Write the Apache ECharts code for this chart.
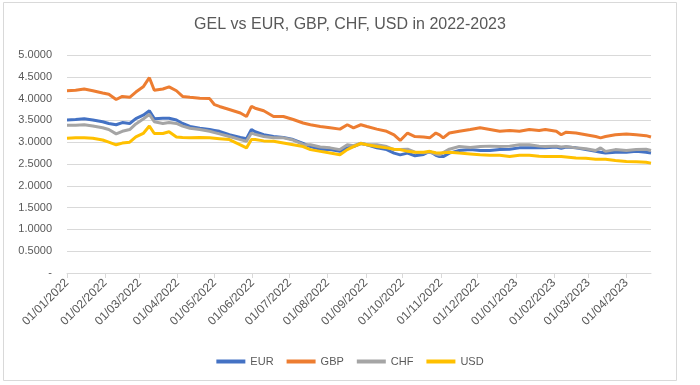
<!DOCTYPE html>
<html>
<head>
<meta charset="utf-8">
<script src="https://cdn.jsdelivr.net/npm/echarts@6/dist/echarts.min.js"></script>
<style>
html,body{margin:0;padding:0;background:#fff;}
#chart{width:700px;height:385px;}
</style>
</head>
<body>
<div id="chart"></div>
<script>
const dates = [
'2022-01-01','2022-01-08','2022-01-15','2022-01-22','2022-01-30','2022-02-04','2022-02-10','2022-02-15','2022-02-21','2022-02-26',
'2022-03-04','2022-03-09','2022-03-13','2022-03-20','2022-03-25','2022-03-31','2022-04-05','2022-04-11','2022-04-19','2022-04-27',
'2022-05-01','2022-05-05','2022-05-13','2022-05-22','2022-05-27','2022-05-31','2022-06-03','2022-06-10','2022-06-18','2022-06-26',
'2022-07-04','2022-07-12','2022-07-18','2022-07-26','2022-08-03','2022-08-11','2022-08-17','2022-08-22','2022-08-28','2022-09-02',
'2022-09-10','2022-09-18','2022-09-24','2022-09-29','2022-10-05','2022-10-11','2022-10-18','2022-10-23','2022-10-28','2022-10-31',
'2022-11-03','2022-11-08','2022-11-16','2022-11-25','2022-12-03','2022-12-11','2022-12-19','2022-12-27','2023-01-04','2023-01-12',
'2023-01-20','2023-01-25','2023-02-03','2023-02-07','2023-02-11','2023-02-19','2023-02-27','2023-03-07','2023-03-11','2023-03-15',
'2023-03-23','2023-04-01','2023-04-09','2023-04-17','2023-04-21'
];
const eur = [
3.51,3.52,3.54,3.51,3.47,3.43,3.40,3.45,3.43,3.54,
3.62,3.72,3.54,3.55,3.55,3.51,3.43,3.36,3.32,3.29,
3.27,3.25,3.17,3.11,3.08,3.29,3.24,3.17,3.13,3.11,
3.06,2.97,2.90,2.84,2.83,2.79,2.87,2.90,2.97,2.94,
2.87,2.83,2.75,2.71,2.75,2.69,2.72,2.79,2.70,2.67,
2.67,2.75,2.81,2.83,2.81,2.81,2.83,2.84,2.87,2.87,
2.88,2.87,2.89,2.86,2.89,2.87,2.83,2.79,2.77,2.75,
2.77,2.77,2.79,2.77,2.75
];
const gbp = [
4.18,4.19,4.22,4.18,4.13,4.10,3.98,4.05,4.03,4.15,
4.27,4.48,4.19,4.22,4.27,4.18,4.05,4.03,4.01,4.00,
3.86,3.82,3.75,3.67,3.59,3.82,3.78,3.72,3.59,3.59,
3.52,3.44,3.40,3.36,3.33,3.30,3.40,3.33,3.40,3.36,
3.30,3.25,3.17,3.04,3.21,3.13,3.12,3.10,3.21,3.17,
3.10,3.21,3.25,3.29,3.33,3.29,3.25,3.27,3.25,3.29,
3.27,3.29,3.25,3.17,3.23,3.21,3.17,3.13,3.10,3.13,
3.17,3.19,3.17,3.15,3.12
];
const chf = [
3.39,3.39,3.40,3.37,3.33,3.29,3.19,3.25,3.29,3.42,
3.53,3.64,3.47,3.43,3.45,3.43,3.37,3.32,3.29,3.25,
3.22,3.19,3.13,3.06,3.02,3.21,3.18,3.13,3.10,3.10,
3.05,2.95,2.94,2.89,2.87,2.83,2.94,2.92,2.98,2.94,
2.94,2.90,2.83,2.83,2.84,2.77,2.76,2.77,2.73,2.71,
2.76,2.84,2.90,2.88,2.90,2.91,2.90,2.91,2.94,2.94,
2.91,2.90,2.91,2.89,2.90,2.87,2.85,2.81,2.87,2.79,
2.83,2.81,2.83,2.84,2.81
];
const usd = [
3.09,3.10,3.10,3.09,3.05,3.00,2.94,2.98,3.00,3.12,
3.20,3.37,3.20,3.20,3.24,3.12,3.11,3.10,3.11,3.10,
3.09,3.08,3.06,2.94,2.87,3.06,3.06,3.03,3.02,2.98,
2.94,2.90,2.83,2.79,2.75,2.71,2.83,2.90,2.97,2.94,
2.90,2.87,2.84,2.83,2.79,2.77,2.77,2.79,2.76,2.75,
2.76,2.77,2.75,2.73,2.71,2.70,2.70,2.67,2.70,2.70,
2.68,2.67,2.67,2.67,2.66,2.64,2.63,2.61,2.61,2.61,
2.58,2.56,2.55,2.54,2.52
];
const seriesNames = ['EUR','GBP','CHF','USD'];
const monthTicks = [
'2022-01-01','2022-02-01','2022-03-01','2022-04-01','2022-05-01','2022-06-01','2022-07-01','2022-08-01',
'2022-09-01','2022-10-01','2022-11-01','2022-12-01','2023-01-01','2023-02-01','2023-03-01','2023-04-01'
];
const xMin = '2022-01-01';
const xMax = '2023-04-21';

function toTs(s){ const p = s.split('-').map(Number); return Date.UTC(p[0], p[1]-1, p[2]); }
function pad(n){ return (n<10?'0':'')+n; }
function fmt(v){ const d = new Date(v); return pad(d.getUTCDate())+'/'+pad(d.getUTCMonth()+1)+'/'+d.getUTCFullYear(); }

const tickTs = monthTicks.map(toTs);
const colors = ['#4472C4','#ED7D31','#A5A5A5','#FFC000'];
const values = [eur, gbp, chf, usd];
const FONT = 'Liberation Sans';

const chart = echarts.init(document.getElementById('chart'));
chart.setOption({
  animation: false,
  color: colors,
  textStyle: { fontFamily: FONT },
  graphic: [{
    type: 'rect', silent: true, z: -10,
    shape: { x: 3.5, y: 2.5, width: 673, height: 378 },
    style: { fill: '#fff', stroke: '#D9D9D9', lineWidth: 1 }
  }],
  title: {
    text: 'GEL vs EUR, GBP, CHF, USD in 2022-2023',
    left: 'center', top: 12,
    textStyle: { fontFamily: FONT, fontSize: 16, fontWeight: 'normal', color: '#595959' }
  },
  legend: {
    data: seriesNames,
    left: 'center', top: 351,
    icon: 'rect', itemWidth: 29, itemHeight: 4, itemGap: 13,
    textStyle: { fontFamily: FONT, fontSize: 11, color: '#595959' }
  },
  grid: { left: 67, right: 49, top: 55, bottom: 112, containLabel: false },
  xAxis: {
    type: 'value',
    min: toTs(xMin), max: toTs(xMax),
    splitLine: { show: false },
    axisLine: { show: true, lineStyle: { color: '#D9D9D9', width: 1 } },
    axisTick: { show: true, length: 5, lineStyle: { color: '#D9D9D9' }, customValues: tickTs },
    axisLabel: {
      customValues: tickTs,
      rotate: 45, margin: 8,
      fontFamily: FONT, fontSize: 12, color: '#595959',
      formatter: function(v){ return fmt(v); }
    }
  },
  yAxis: {
    type: 'value', min: 0, max: 5, interval: 0.5,
    axisLine: { show: false }, axisTick: { show: false },
    splitLine: { lineStyle: { color: '#D9D9D9', width: 1 } },
    axisLabel: {
      margin: 15, fontFamily: FONT, fontSize: 11, color: '#595959',
      formatter: function(v){ return v === 0 ? '-' : v.toFixed(4); }
    }
  },
  series: seriesNames.map((n, k) => ({
    name: n, type: 'line', showSymbol: false, symbol: 'none',
    lineStyle: { width: 3, color: colors[k] },
    data: dates.map((d, i) => [toTs(d), values[k][i]])
  }))
});
</script>
</body>
</html>
